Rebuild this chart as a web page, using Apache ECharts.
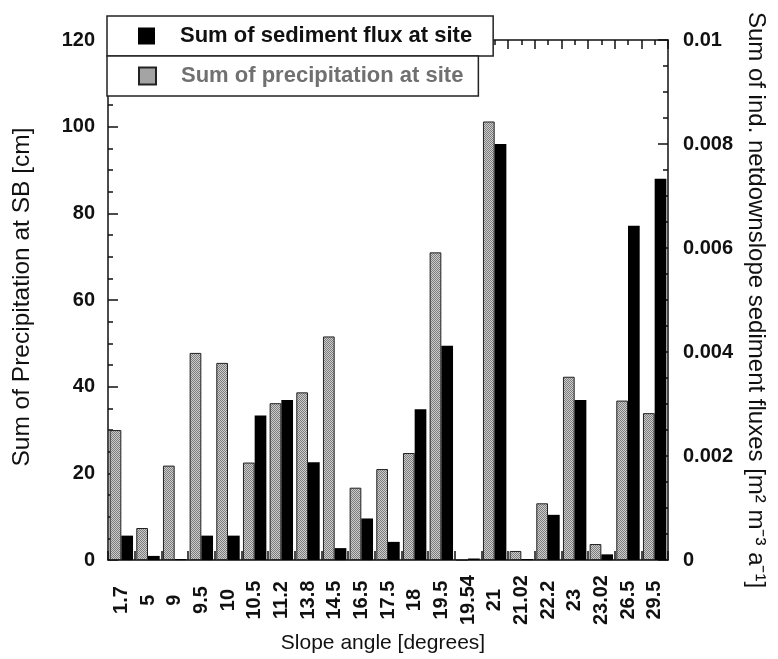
<!DOCTYPE html>
<html>
<head>
<meta charset="utf-8">
<script src="https://cdn.jsdelivr.net/npm/echarts@6/dist/echarts.min.js"></script>
<style>html,body{margin:0;padding:0;background:#fff}#c{width:778px;height:659px}</style>
</head>
<body>
<div id="c"></div>
<script>
// Data
const categories = ['1.7','5','9','9.5','10','10.5','11.2','13.8','14.5','16.5','17.5','18','19.5','19.54','21','21.02','22.2','23','23.02','26.5','29.5'];
const precipitation = [30.0, 7.4, 21.8, 47.8, 45.5, 22.5, 36.2, 38.7, 51.6, 16.7, 21.0, 24.7, 71.0, 0, 101.2, 2.1, 13.1, 42.3, 3.7, 36.8, 33.9];
const sedimentFlux = [0.00047, 0.00008, 0.00002, 0.00047, 0.00047, 0.00278, 0.00308, 0.00188, 0.00023, 0.00080, 0.00035, 0.00290, 0.00412, 0.00003, 0.00800, 0.00002, 0.00087, 0.00308, 0.00011, 0.00643, 0.00733];
const leftTicks = {min: 0, max: 120, interval: 20};
const rightTicks = {min: 0, max: 0.01, interval: 0.002};
const nameSed = 'Sum of sediment flux at site';
const namePrec = 'Sum of precipitation at site';

// stipple pattern
const pc = document.createElement('canvas');
pc.width = 2; pc.height = 2;
const px = pc.getContext('2d');
px.fillStyle = '#cdcdcd'; px.fillRect(0,0,2,2);
px.fillStyle = '#7c7c7c'; px.fillRect(0,0,1,1); px.fillRect(1,1,1,1);

const FF = '"Liberation Sans", Arial, Helvetica, sans-serif';
const chart = echarts.init(document.getElementById('c'), null, {renderer: 'canvas'});
const axisLineStyle = {color: '#111', width: 1.5};
chart.setOption({
  animation: false,
  backgroundColor: '#fff',
  textStyle: {fontFamily: FF},
  grid: {left: 108, right: 110, top: 40, bottom: 97, containLabel: false},
  legend: [
    {
      data: [{name: nameSed, icon: 'rect'}], left: 107, top: 16, orient: 'horizontal',
      backgroundColor: '#fff', borderColor: '#222', borderWidth: 1.5, borderRadius: 0,
      padding: [9, 21, 9, 31], itemWidth: 17, itemHeight: 17,
      textStyle: {fontFamily: FF, fontSize: 22, fontWeight: 'bold', color: '#111', padding: [0,0,0,20], lineHeight: 22},
      selectedMode: false, z: 10
    },
    {
      data: [{name: namePrec, icon: 'rect'}], left: 107, top: 56, orient: 'horizontal',
      backgroundColor: '#fff', borderColor: '#222', borderWidth: 1.5, borderRadius: 0,
      padding: [9, 15, 9, 31], itemWidth: 17, itemHeight: 17,
      textStyle: {fontFamily: FF, fontSize: 22, fontWeight: 'bold', color: '#707070', padding: [0,0,0,20], lineHeight: 22},
      selectedMode: false, z: 10
    }
  ],
  xAxis: [
    {
      type: 'category', data: categories, position: 'bottom',
      axisLine: {show: true, lineStyle: axisLineStyle},
      axisTick: {show: true, inside: true, length: 9, interval: 0, lineStyle: {color: '#111', width: 1.5}},
      axisLabel: {interval: 0, rotate: 90, align: 'center', verticalAlign: 'middle', margin: 40,
        fontFamily: FF, fontSize: 20, fontWeight: 'bold', color: '#111'},
      name: 'Slope angle [degrees]', nameLocation: 'middle', nameGap: 66,
      nameTextStyle: {fontFamily: FF, fontSize: 21, color: '#111', padding: [0, 10, 0, 0]},
      splitLine: {show: false}
    },
    {
      type: 'value', position: 'top', min: 0, max: 21, interval: 1,
      axisLine: {show: true, onZero: false, lineStyle: axisLineStyle},
      axisTick: {show: true, inside: true, length: 9, lineStyle: {color: '#111', width: 1.5}},
      minorTick: {show: true, splitNumber: 2, length: 5, lineStyle: {color: '#111', width: 1.5}},
      axisLabel: {show: false}, splitLine: {show: false}
    }
  ],
  yAxis: [
    {
      type: 'value', position: 'left', min: leftTicks.min, max: leftTicks.max, interval: leftTicks.interval,
      axisLine: {show: true, lineStyle: axisLineStyle},
      axisTick: {show: true, inside: true, length: 10, lineStyle: {color: '#111', width: 1.5}},
      minorTick: {show: true, splitNumber: 4, length: 5, lineStyle: {color: '#111', width: 1.5}},
      axisLabel: {fontFamily: FF, fontSize: 20, fontWeight: 'bold', color: '#111', margin: 13},
      splitLine: {show: false},
      name: 'Sum of Precipitation at SB [cm]', nameLocation: 'middle', nameGap: 73, nameRotate: 90,
      nameTextStyle: {fontFamily: FF, fontSize: 24.5, color: '#111', padding: [0, 0, 0, 6]}
    },
    {
      type: 'value', position: 'right', min: rightTicks.min, max: rightTicks.max, interval: rightTicks.interval,
      axisLine: {show: true, lineStyle: axisLineStyle},
      axisTick: {show: true, inside: true, length: 10, lineStyle: {color: '#111', width: 1.5}},
      minorTick: {show: true, splitNumber: 4, length: 5, lineStyle: {color: '#111', width: 1.5}},
      axisLabel: {fontFamily: FF, fontSize: 20, fontWeight: 'bold', color: '#111', margin: 15},
      splitLine: {show: false},
      name: 'Sum of ind. netdownslope sediment fluxes [m² m⁻³ a⁻¹]', nameLocation: 'middle', nameGap: 76, nameRotate: -90,
      nameTextStyle: {fontFamily: FF, fontSize: 24, color: '#111'}
    }
  ],
  series: [
    {
      name: namePrec, type: 'bar', xAxisIndex: 0, yAxisIndex: 0, data: precipitation,
      barWidth: 11.7, barGap: '0%',
      itemStyle: {color: {image: pc, repeat: 'repeat'}, borderColor: '#222', borderWidth: 1}
    },
    {
      name: nameSed, type: 'bar', xAxisIndex: 0, yAxisIndex: 1, data: sedimentFlux,
      barWidth: 11.7, barGap: '0%',
      itemStyle: {color: '#000', borderColor: '#000', borderWidth: 0}
    }
  ]
});
</script>
</body>
</html>
